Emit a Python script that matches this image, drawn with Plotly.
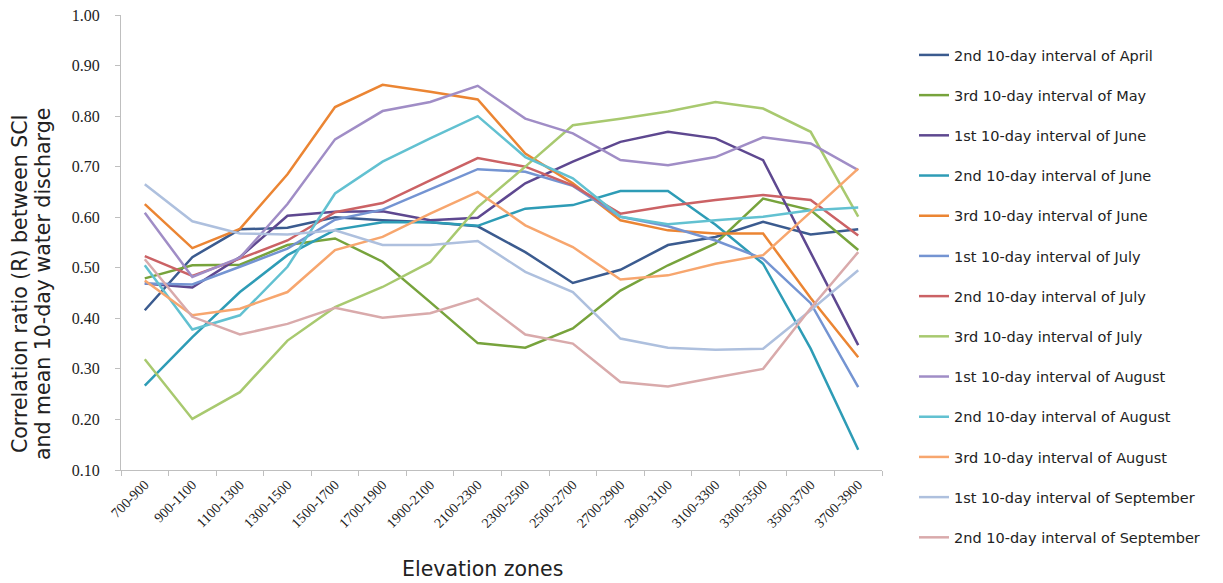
import plotly.graph_objects as go

categories = ["700-900", "900-1100", "1100-1300", "1300-1500", "1500-1700", "1700-1900",
              "1900-2100", "2100-2300", "2300-2500", "2500-2700", "2700-2900", "2900-3100",
              "3100-3300", "3300-3500", "3500-3700", "3700-3900"]

apr_2 = [0.416, 0.521, 0.576, 0.579, 0.600, 0.594, 0.590, 0.582, 0.531, 0.470, 0.496, 0.545, 0.561, 0.591, 0.566, 0.576]
may_3 = [0.479, 0.505, 0.506, 0.545, 0.558, 0.512, 0.432, 0.351, 0.342, 0.380, 0.455, 0.505, 0.548, 0.637, 0.614, 0.535]
jun_1 = [0.469, 0.461, 0.521, 0.603, 0.611, 0.612, 0.594, 0.599, 0.667, 0.710, 0.749, 0.769, 0.756, 0.713, 0.530, 0.347]
jun_2 = [0.267, 0.363, 0.452, 0.525, 0.575, 0.590, 0.590, 0.583, 0.617, 0.624, 0.652, 0.652, 0.585, 0.508, 0.340, 0.140]
jun_3 = [0.626, 0.539, 0.577, 0.685, 0.818, 0.862, 0.848, 0.833, 0.726, 0.667, 0.594, 0.574, 0.568, 0.568, 0.440, 0.323]
jul_1 = [0.469, 0.467, 0.502, 0.538, 0.595, 0.615, 0.655, 0.695, 0.690, 0.662, 0.601, 0.582, 0.554, 0.518, 0.430, 0.264]
jul_2 = [0.523, 0.484, 0.518, 0.554, 0.610, 0.628, 0.673, 0.717, 0.700, 0.663, 0.607, 0.622, 0.634, 0.644, 0.634, 0.564]
jul_3 = [0.319, 0.201, 0.254, 0.356, 0.422, 0.462, 0.511, 0.620, 0.700, 0.782, 0.795, 0.809, 0.828, 0.815, 0.769, 0.601]
aug_1 = [0.609, 0.482, 0.520, 0.626, 0.754, 0.810, 0.828, 0.860, 0.795, 0.766, 0.713, 0.703, 0.719, 0.758, 0.746, 0.693]
aug_2 = [0.505, 0.378, 0.406, 0.502, 0.647, 0.710, 0.756, 0.800, 0.719, 0.677, 0.601, 0.586, 0.594, 0.601, 0.614, 0.619]
aug_3 = [0.475, 0.406, 0.419, 0.452, 0.535, 0.561, 0.607, 0.650, 0.584, 0.541, 0.477, 0.485, 0.508, 0.525, 0.610, 0.696]
sep_1 = [0.665, 0.592, 0.568, 0.566, 0.574, 0.545, 0.545, 0.553, 0.492, 0.452, 0.360, 0.342, 0.338, 0.340, 0.416, 0.495]
sep_2 = [0.517, 0.403, 0.368, 0.389, 0.421, 0.401, 0.410, 0.439, 0.368, 0.350, 0.274, 0.265, 0.283, 0.300, 0.420, 0.531]

series_names = [
    "2nd 10-day interval of April", "3rd 10-day interval of May", "1st 10-day interval of June",
    "2nd 10-day interval of June", "3rd 10-day interval of June", "1st 10-day interval of July",
    "2nd 10-day interval of July", "3rd 10-day interval of July", "1st 10-day interval of August",
    "2nd 10-day interval of August", "3rd 10-day interval of August", "1st 10-day interval of September",
    "2nd 10-day interval of September",
]
series_values = [apr_2, may_3, jun_1, jun_2, jun_3, jul_1, jul_2, jul_3, aug_1, aug_2, aug_3, sep_1, sep_2]
series_colors = ["#3B5B8F", "#77A33C", "#5E4890", "#2E9CB6", "#EB8533", "#7494D2", "#CB6265",
                 "#A8C96F", "#A08DC6", "#62C1D1", "#F7A66E", "#AEC0DE", "#D9AAAB"]

fig = go.Figure()
for i, (name, vals, col) in enumerate(zip(series_names, series_values, series_colors)):
    fig.add_trace(go.Scatter(
        x=categories, y=vals, mode="lines", name=name,
        line=dict(color=col, width=2.5),
        legendgroup=f"g{i}",
    ))

# plot area in pixels
PL, PR, PT, PB = 121, 882, 15, 470
W, H = 1223, 583

def px_x(x):
    return (x - PL) / (PR - PL)

def px_y(y):
    return (PB - y) / (PB - PT)

axis_col = "#BFBFBF"
title_font = dict(family="DejaVu Sans", size=20.5, color="#222222")
fig.update_layout(
    width=W, height=H,
    margin=dict(l=PL, r=W - PR, t=PT, b=H - PB, autoexpand=False),
    paper_bgcolor="white", plot_bgcolor="white",
    showlegend=True,
    legend=dict(
        xref="container", yref="container",
        x=914 / W, y=1 - 39 / H, xanchor="left", yanchor="top",
        font=dict(family="DejaVu Sans", size=14.5, color="#222222"),
        tracegroupgap=18.35, bgcolor="rgba(0,0,0,0)", maxheight=570,
    ),
    xaxis=dict(
        type="category", range=[-0.5, 15.5],
        showline=True, linecolor=axis_col, linewidth=1,
        ticks="outside", tickcolor=axis_col, ticklen=5, tickson="boundaries",
        tickangle=-45, showgrid=False, zeroline=False, automargin=False,
        tickfont=dict(family="Liberation Serif", size=14, color="#222222"),
    ),
    yaxis=dict(
        range=[0.10, 1.00], dtick=0.1, tick0=0.1, tickformat=".2f",
        showline=True, linecolor=axis_col, linewidth=1,
        ticks="outside", tickcolor=axis_col, ticklen=5, ticklabelstandoff=12,
        showgrid=False, zeroline=False, automargin=False,
        tickfont=dict(family="Liberation Serif", size=16, color="#222222"),
    ),
    annotations=[
        dict(text="Correlation ratio (R) between SCI",
             xref="paper", yref="paper", x=px_x(20), y=px_y(284),
             xanchor="center", yanchor="middle", textangle=-90, showarrow=False,
             font=title_font),
        dict(text="and mean 10-day water discharge",
             xref="paper", yref="paper", x=px_x(43), y=px_y(284),
             xanchor="center", yanchor="middle", textangle=-90, showarrow=False,
             font=title_font),
        dict(text="Elevation zones",
             xref="paper", yref="paper", x=px_x(482), y=px_y(569),
             xanchor="center", yanchor="middle", showarrow=False,
             font=title_font),
    ],
)

fig.write_html(
    "out.html",
    config={"displayModeBar": False},
    post_script="document.body.style.margin='0';document.body.style.overflow='hidden';",
)
